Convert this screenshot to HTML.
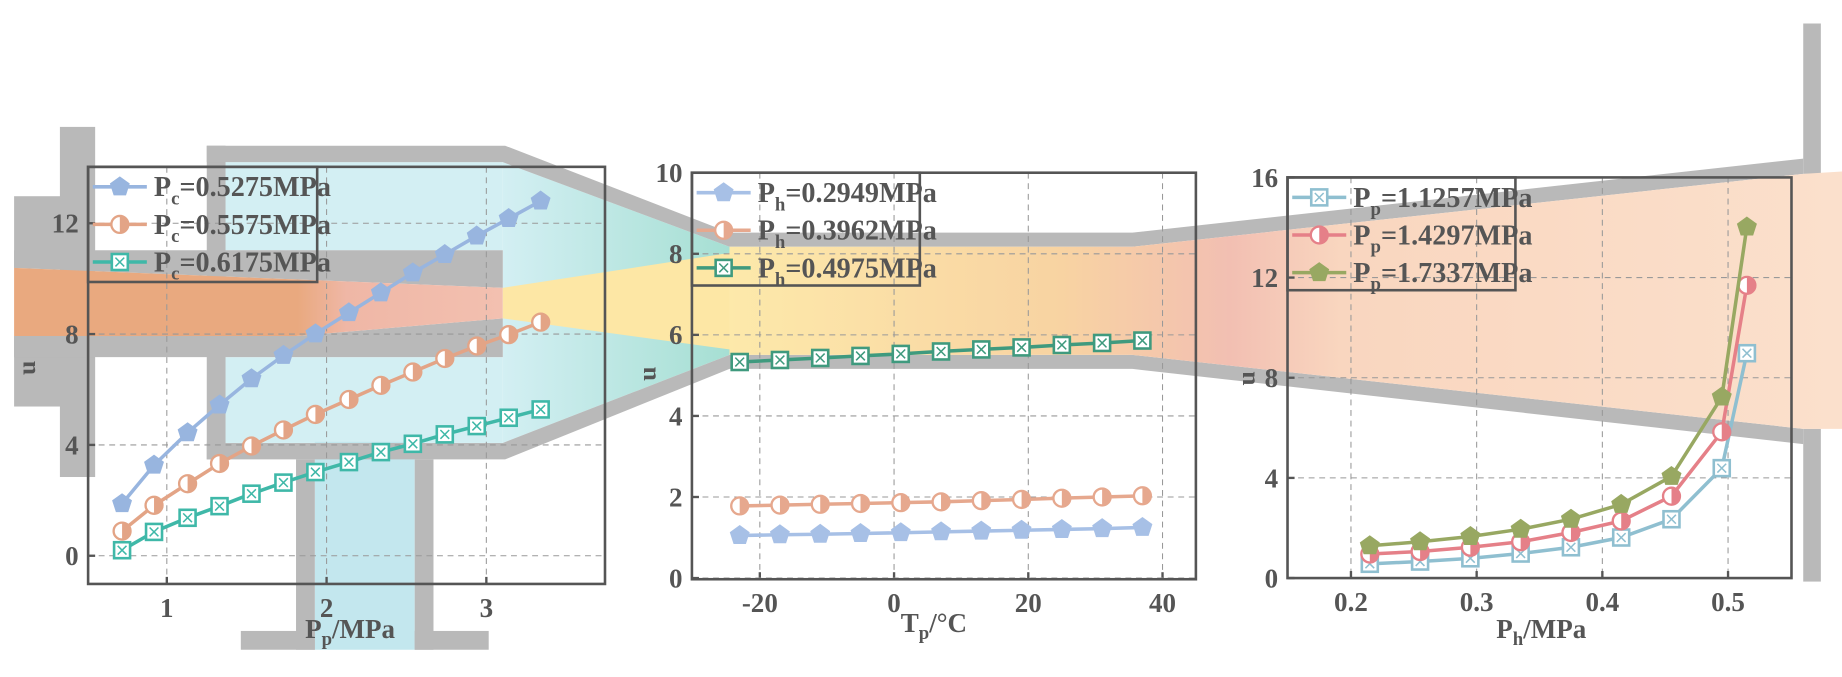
<!DOCTYPE html>
<html><head><meta charset="utf-8"><style>
html,body{margin:0;padding:0;background:#fff;}
svg{display:block;}
svg text{font-family:"Liberation Serif","Times New Roman",serif;font-weight:bold;fill:#555;}
</style></head><body>
<svg id="fig" width="1842" height="677" viewBox="0 0 1568 576.2" preserveAspectRatio="none" xmlns="http://www.w3.org/2000/svg" font-family="Liberation Serif, serif">
<defs>
<linearGradient id="gJet" x1="0" x2="1" y1="0" y2="0">
<stop offset="0" stop-color="#e9a97f"/><stop offset="0.58" stop-color="#e9a97f"/><stop offset="0.68" stop-color="#efb7a6"/><stop offset="1" stop-color="#f3c0b0"/></linearGradient>
<linearGradient id="gDiff" x1="620" x2="1568" y1="0" y2="0" gradientUnits="userSpaceOnUse">
<stop offset="0" stop-color="#fde9aa"/><stop offset="0.3" stop-color="#f8d3a2"/><stop offset="0.45" stop-color="#f2bfb2"/><stop offset="0.55" stop-color="#f9d6bf"/><stop offset="1" stop-color="#fbe0cc"/></linearGradient>
<linearGradient id="gMix" x1="0" x2="1" y1="0" y2="0">
<stop offset="0" stop-color="#d3eff3"/><stop offset="1" stop-color="#a6dfd3"/></linearGradient>
</defs>
<g id="bg">
<rect x="192" y="138" width="236" height="75" fill="#d3eff3"/>
<rect x="192" y="304" width="236" height="73" fill="#d3eff3"/>
<rect x="268" y="376" width="85" height="177" fill="#c3e7ee"/>
<polygon points="428,138 621,210 621,302 428,377" fill="url(#gMix)"/>
<g fill="#b9b9b9">
<rect x="51" y="108" width="30" height="298"/>
<rect x="12" y="167" width="40" height="61"/>
<rect x="12" y="286" width="40" height="60"/>
<polygon points="12,213 428,213 428,245 12,228"/>
<polygon points="12,286 252,286 428,271 428,304 12,304"/>
<rect x="176" y="124" width="16" height="267"/>
<polygon points="176,124 430,124 621,198 964,198 1535,135 1535,148 964,210 621,210 428,138 176,138"/>
<polygon points="176,377 428,377 621,302 964,302 1535,365 1535,378 964,314 621,314 430,391 176,391"/>
<rect x="252" y="391" width="16" height="162"/>
<rect x="353" y="391" width="16" height="162"/>
<rect x="205" y="537" width="63" height="16"/>
<rect x="353" y="537" width="63" height="16"/>
<rect x="1535" y="20" width="15" height="128"/>
<rect x="1535" y="365" width="15" height="130"/>
</g>
<polygon points="12,228 428,245 428,271 252,286 12,286" fill="url(#gJet)"/>
<polygon points="428,245 655,210 655,302 428,271" fill="#fde7a5"/>
<polygon points="621,210 964,210 1535,148 1568,146 1568,365 1535,365 964,302 621,302" fill="url(#gDiff)"/>
</g>
<g id="charts"></g>
</svg>
<script>
const NS="http://www.w3.org/2000/svg";
// Panel 1 data
const p1X=[0.72,0.92,1.13,1.33,1.53,1.73,1.93,2.14,2.34,2.54,2.74,2.94,3.14,3.34];
const p1A=[1.88,3.27,4.44,5.44,6.39,7.23,8.01,8.77,9.49,10.21,10.87,11.54,12.17,12.80];
const p1B=[0.89,1.82,2.60,3.33,3.96,4.54,5.10,5.64,6.15,6.63,7.12,7.57,7.98,8.43];
const p1C=[0.20,0.86,1.37,1.79,2.24,2.64,3.02,3.38,3.74,4.04,4.38,4.68,4.98,5.28];
const p1XTicks=[1,2,3]; const p1YTicks=[0,4,8,12];
// Panel 2 data
const p2X=[-23,-17,-11,-5,1,7,13,19,25,31,37];
const p2A=[1.05,1.07,1.08,1.10,1.12,1.14,1.16,1.18,1.20,1.22,1.25];
const p2B=[1.78,1.80,1.82,1.84,1.86,1.88,1.91,1.94,1.97,2.00,2.03];
const p2C=[5.33,5.38,5.43,5.48,5.53,5.59,5.64,5.69,5.75,5.80,5.86];
const p2XTicks=[-20,0,20,40]; const p2YTicks=[0,2,4,6,8,10];
// Panel 3 data
const p3X=[0.215,0.255,0.295,0.335,0.375,0.415,0.455,0.495,0.515];
const p3A=[0.57,0.66,0.79,0.98,1.23,1.62,2.35,4.39,8.98];
const p3B=[0.96,1.06,1.23,1.45,1.82,2.28,3.27,5.84,11.69];
const p3C=[1.29,1.45,1.66,1.95,2.35,2.94,4.06,7.23,14.02];
const p3XTicks=[0.2,0.3,0.4,0.5]; const p3YTicks=[0,4,8,12,16];

const FONT='"Liberation Serif","Times New Roman",serif';
const root=document.getElementById('charts');
function mk(tag,attrs,parent){const e=document.createElementNS(NS,tag);for(const k in attrs)e.setAttribute(k,attrs[k]);if(tag==='text'){e.setAttribute('font-family',FONT);e.setAttribute('font-weight','bold');e.setAttribute('fill','#555');}(parent||root).appendChild(e);return e;}
function lin(d0,d1,r0,r1){return v=>r0+(v-d0)*(r1-r0)/(d1-d0);}

function marker(g,type,x,y,col,r){
  r=r||8;
  if(type==='pent'){let p=[];for(let i=0;i<5;i++){const a=-Math.PI/2+i*2*Math.PI/5;p.push((x+r*Math.cos(a)).toFixed(1)+','+(y+r*Math.sin(a)).toFixed(1));}
    const m=mk('polygon',{points:p.join(' '),fill:col,stroke:col,'stroke-width':1.5},g);
    
    }
  else if(type==='half'){
    const m=mk('circle',{cx:x,cy:y,r:r*0.9,fill:'#fff',stroke:col,'stroke-width':2},g);
    
    
    mk('path',{d:`M${x},${y-r*0.9} A${r*0.9},${r*0.9} 0 0 1 ${x},${y+r*0.9} Z`,fill:col},g);}
  else{const s=r*0.85;
    const m=mk('rect',{x:x-s,y:y-s,width:2*s,height:2*s,fill:'#fff',stroke:col,'stroke-width':2.2},g);
    
    
    mk('path',{d:`M${x-s*0.55},${y-s*0.55}L${x+s*0.55},${y+s*0.55}M${x+s*0.55},${y-s*0.55}L${x-s*0.55},${y+s*0.55}`,stroke:col,'stroke-width':1.3},g);}
}

function panel(cfg){
  const g=mk('g',{});
  
  
  const sx=lin(cfg.xd[0],cfg.xd[1],cfg.xr[0],cfg.xr[1]);
  const sy=lin(cfg.yd[0],cfg.yd[1],cfg.yr[0],cfg.yr[1]);
  const F=cfg.frame;
  cfg.xTicks.forEach(t=>{const X=sx(t);
    const l=mk('line',{x1:X,x2:X,y1:F[1],y2:F[3],stroke:'#999','stroke-width':0.9,'stroke-dasharray':'5,4'},g);
    
    
    mk('line',{x1:X,x2:X,y1:F[3],y2:F[3]-6,stroke:'#555','stroke-width':2},g);
    const tx=mk('text',{x:X,y:F[3]+28,'text-anchor':'middle','font-size':23},g);tx.textContent=t;
    
    });
  cfg.yTicks.forEach(t=>{const Y=sy(t);
    if(Y>F[1]+2){const l=mk('line',{x1:F[0],x2:F[2],y1:Y,y2:Y,stroke:'#999','stroke-width':0.9,'stroke-dasharray':'5,4'},g);
    
    }
    mk('line',{x1:F[0],x2:F[0]+6,y1:Y,y2:Y,stroke:'#555','stroke-width':2},g);
    const tx=mk('text',{x:F[0]-8,y:Y+8,'text-anchor':'end','font-size':23},g);tx.textContent=t;
    
    });
  cfg.series.forEach(s=>{
    const sg=mk('g',{},g);
    
    
    const pts=cfg.xs.map((x,i)=>sx(x).toFixed(1)+','+sy(s.v[i]).toFixed(1)).join(' ');
    const pl=mk('polyline',{points:pts,fill:'none',stroke:s.col,'stroke-width':3},sg);
    
    
    cfg.xs.forEach((x,i)=>marker(sg,s.m,sx(x),sy(s.v[i]),s.col));
  });
  const fr=mk('rect',{x:F[0],y:F[1],width:F[2]-F[0],height:F[3]-F[1],fill:'none',stroke:'#555','stroke-width':2.2},g);
  
  
  const L=cfg.legend;
  const lg=mk('g',{},g);
  
  
  mk('rect',{x:L[0],y:L[1],width:L[2],height:L[3],fill:'none',stroke:'#555','stroke-width':2.2},lg);
  cfg.series.forEach((s,i)=>{
    const yy=L[1]+17+i*L[4];
    const e=mk('g',{},lg);
    
    
    mk('line',{x1:L[0]+4,x2:L[0]+50,y1:yy,y2:yy,stroke:s.col,'stroke-width':3},e);
    marker(e,s.m,L[0]+27,yy,s.col);
    const t=mk('text',{x:L[0]+56,y:yy+8,'font-size':24},e);
    const tt=mk('tspan',{},t);tt.textContent='P';
    const sb=mk('tspan',{'font-size':16,dy:7},t);sb.textContent=cfg.sub;
    const rest=mk('tspan',{dy:-7},t);rest.textContent=s.label;
  });
  const yt=mk('text',{x:0,y:0,'font-size':22,'text-anchor':'middle',transform:`translate(${cfg.yTitle[0]},${cfg.yTitle[1]}) rotate(-90)`},g);yt.textContent='u';
  
  
  const xt=mk('text',{x:cfg.xTitle[0],y:cfg.xTitle[1],'font-size':23,'text-anchor':'middle'},g);
  
  
  const a=mk('tspan',{},xt);a.textContent=cfg.xt[0];
  const b=mk('tspan',{'font-size':16,dy:6},xt);b.textContent=cfg.xt[1];
  const c=mk('tspan',{dy:-6},xt);c.textContent=cfg.xt[2];
}

panel({name:'chart-pp',xd:[1,3],xr:[142,414],yd:[0,12],yr:[473,190],frame:[75,142,515,497],
  xs:p1X,xTicks:p1XTicks,yTicks:p1YTicks,sub:'c',
  series:[{name:'series-pc-0.5275',v:p1A,col:'#98b5df',m:'pent',label:'=0.5275MPa'},
          {name:'series-pc-0.5575',v:p1B,col:'#e3a486',m:'half',label:'=0.5575MPa'},
          {name:'series-pc-0.6175',v:p1C,col:'#3fb8a8',m:'sq',label:'=0.6175MPa'}],
  legend:[75,142,195,98,32],yTitle:[30,313],xTitle:[298,543],xt:['P','p','/MPa']});
panel({name:'chart-tp',xd:[-20,40],xr:[646.8,989.6],yd:[0,10],yr:[492,147],frame:[589,147,1018,493],
  xs:p2X,xTicks:p2XTicks,yTicks:p2YTicks,sub:'h',
  series:[{name:'series-ph-0.2949',v:p2A,col:'#a7c0e6',m:'pent',label:'=0.2949MPa'},
          {name:'series-ph-0.3962',v:p2B,col:'#e6a88e',m:'half',label:'=0.3962MPa'},
          {name:'series-ph-0.4975',v:p2C,col:'#3f9a7e',m:'sq',label:'=0.4975MPa'}],
  legend:[589,147,194,96,32],yTitle:[558,318],xTitle:[795,538],xt:['T','p','/°C']});
panel({name:'chart-ph',xd:[0.2,0.5],xr:[1150,1471],yd:[0,16],yr:[492,151],frame:[1096,151,1525,492],
  xs:p3X,xTicks:p3XTicks,yTicks:p3YTicks,sub:'p',
  series:[{name:'series-pp-1.1257',v:p3A,col:'#8fbfd0',m:'sq',label:'=1.1257MPa'},
          {name:'series-pp-1.4297',v:p3B,col:'#e58088',m:'half',label:'=1.4297MPa'},
          {name:'series-pp-1.7337',v:p3C,col:'#98a862',m:'pent',label:'=1.7337MPa'}],
  legend:[1096,151,194,96,32],yTitle:[1068,322],xTitle:[1312,543],xt:['P','h','/MPa']});
</script>
</body></html>
